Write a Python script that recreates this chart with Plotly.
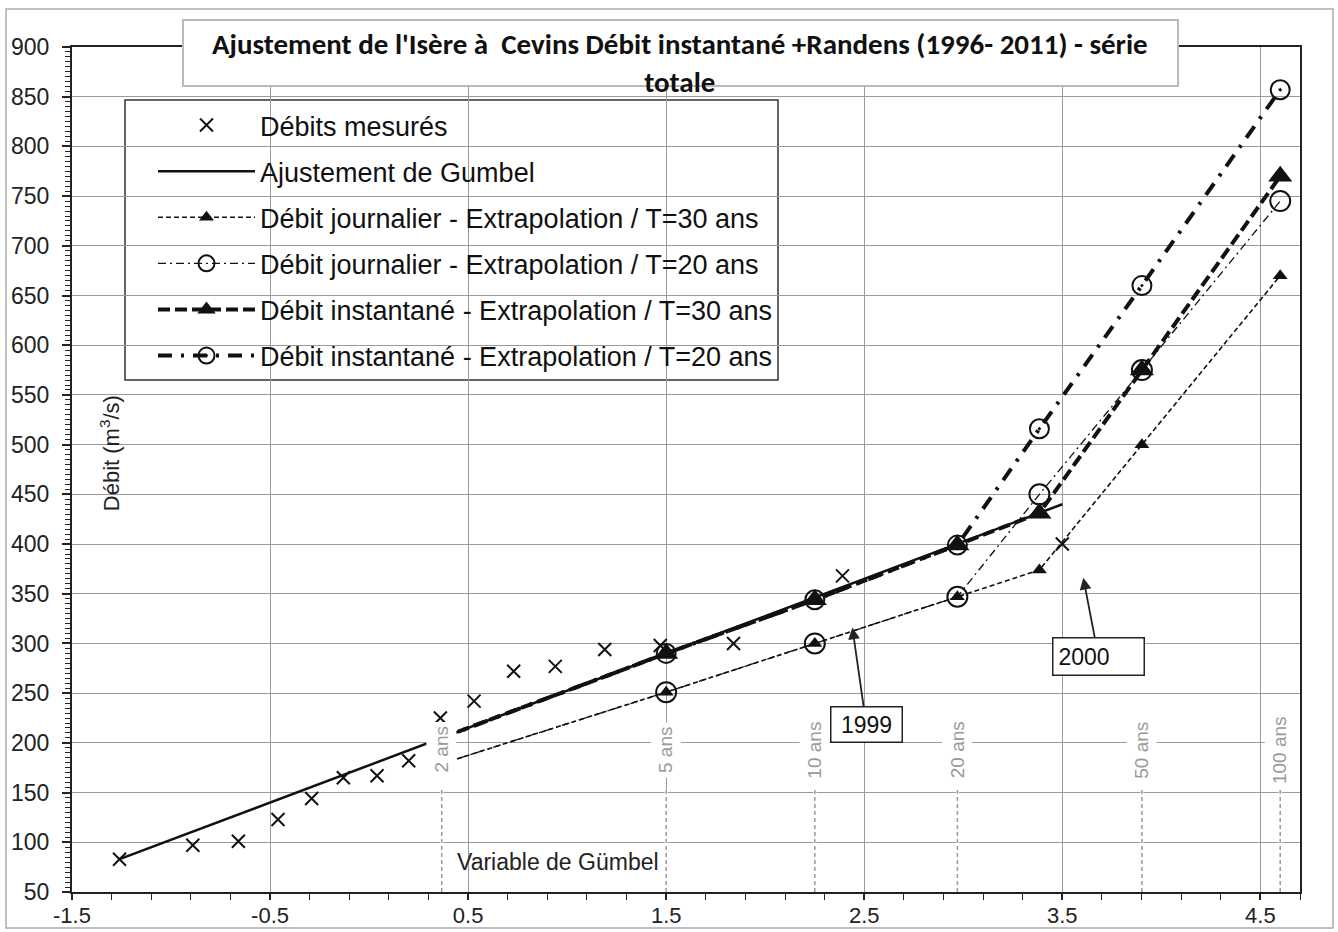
import plotly.graph_objects as go

# ---------------- data ----------------
measured_u = [-1.26, -0.89, -0.66, -0.46, -0.29, -0.13, 0.04, 0.20, 0.36, 0.53,
              0.73, 0.94, 1.19, 1.47, 1.84, 2.39, 3.50]
measured_q = [83, 97, 101, 123, 144, 165, 167, 182, 225, 242,
              272, 277, 294, 298, 300, 368, 400]

fit_u = [-1.26, 3.50]
fit_q = [83, 440]

extrap_u = [0.3665, 1.4999, 2.2504, 2.9702, 3.3843, 3.9019, 4.6001]
jour_t30 = [179, 251, 300, 347, 374, 500, 670]
jour_t20 = [179, 251, 300, 347, 450, 575, 745]
inst_t30 = [205, 290, 344, 399, 431, 575, 770]
inst_t20 = [205, 290, 344, 399, 516, 660, 857]

return_u = [0.3665, 1.4999, 2.2504, 2.9702, 3.9019, 4.6001]
return_labels = ["2 ans", "5 ans", "10 ans", "20 ans", "50 ans", "100 ans"]

y_ticks = list(range(50, 901, 50))
x_ticks = [-1.5, -0.5, 0.5, 1.5, 2.5, 3.5, 4.5]

title_text = ("Ajustement de l'Isère à  Cevins Débit instantané +Randens (1996- 2011) - série"
              "<br>totale")

# ---------------- figure ----------------
W, H = 1338, 932
ML, MR, MT, MB = 72, 38, 47, 40
PW, PH = W - ML - MR, H - MT - MB
X0, X1, Y0, Y1 = -1.5, 4.7, 50, 900


def px2paper_x(px):
    return (px - ML) / PW


def px2paper_y(py):
    return 1 - (py - MT) / PH


def px2x(px):
    return X0 + (px - ML) / PW * (X1 - X0)


def px2y(py):
    return Y1 - (py - MT) / PH * (Y1 - Y0)


FONT = "Liberation Sans, Arial, sans-serif"
TITLE_FONT = "Carlito, Lato, sans-serif"
fig = go.Figure()

fig.add_trace(go.Scatter(
    x=measured_u, y=measured_q, mode="markers", name="Débits mesurés",
    legendgroup="a",
    marker=dict(symbol="x-thin", size=13, line=dict(width=2, color="#111"), color="#111")))

fig.add_trace(go.Scatter(
    x=fit_u, y=fit_q, mode="lines", name="Ajustement de Gumbel", legendgroup="b",
    line=dict(color="#111", width=2.5)))

fig.add_trace(go.Scatter(
    x=extrap_u, y=jour_t30, mode="lines+markers",
    name="Débit journalier - Extrapolation / T=30 ans", legendgroup="c",
    line=dict(color="#111", width=1.6, dash="5px,3px"),
    marker=dict(symbol="triangle-up", size=13, color="#111")))

fig.add_trace(go.Scatter(
    x=extrap_u, y=jour_t20, mode="lines+markers",
    name="Débit journalier - Extrapolation / T=20 ans", legendgroup="d",
    line=dict(color="#111", width=1.3, dash="8px,4px,2px,4px"),
    marker=dict(symbol="circle-open", size=20, line=dict(width=2, color="#111"), color="#111")))

fig.add_trace(go.Scatter(
    x=extrap_u, y=inst_t30, mode="lines+markers",
    name="Débit instantané - Extrapolation / T=30 ans", legendgroup="e",
    line=dict(color="#111", width=4, dash="12px,5px"),
    marker=dict(symbol="triangle-up", size=21, color="#111")))

fig.add_trace(go.Scatter(
    x=extrap_u, y=inst_t20, mode="lines+markers",
    name="Débit instantané - Extrapolation / T=20 ans", legendgroup="f",
    line=dict(color="#111", width=4, dash="14px,9px,3px,9px"),
    marker=dict(symbol="circle-open-dot", size=19, line=dict(width=2, color="#111"), color="#111")))

shapes = []
# legend box
shapes.append(dict(type="rect", xref="paper", yref="paper",
                   x0=px2paper_x(125), x1=px2paper_x(778),
                   y0=px2paper_y(380), y1=px2paper_y(100),
                   fillcolor="white", line=dict(color="#333", width=1.5), layer="between"))
# return period dashed lines
for u in return_u:
    shapes.append(dict(type="line", xref="x", yref="y", x0=u, x1=u, y0=Y0, y1=153,
                       line=dict(color="white", width=3), layer="between"))
    shapes.append(dict(type="line", xref="x", yref="y", x0=u, x1=u, y0=Y0, y1=153,
                       line=dict(color="#999", width=1.5, dash="4px,3px"), layer="between"))
# white patch behind the "100 ans" label (breaks the frame like the reference)
shapes.append(dict(type="rect", xref="x", yref="y", x0=px2x(1271), x1=px2x(1304),
                   y0=px2y(790), y1=px2y(705), fillcolor="white",
                   line=dict(width=0), layer="above"))
# title box
shapes.append(dict(type="rect", xref="paper", yref="paper",
                   x0=px2paper_x(183), x1=px2paper_x(1178),
                   y0=px2paper_y(86), y1=px2paper_y(20),
                   fillcolor="white", line=dict(color="#bbb", width=2), layer="above"))
# outer chart border
shapes.append(dict(type="rect", xref="paper", yref="paper",
                   x0=px2paper_x(6), x1=px2paper_x(1333),
                   y0=px2paper_y(928), y1=px2paper_y(9),
                   line=dict(color="#aaa", width=1.5), layer="above"))

annotations = []
annotations.append(dict(
    xref="paper", yref="paper", x=px2paper_x(680), y=px2paper_y(63),
    xanchor="center", yanchor="middle", text="<b>" + title_text + "</b>",
    showarrow=False, align="center",
    font=dict(family=TITLE_FONT, size=29, color="#111")))
annotations.append(dict(
    xref="x", yref="y", x=-1.31, y=491, text="Débit (m<sup>3</sup>/s)", textangle=-90,
    showarrow=False, font=dict(family=FONT, size=22, color="#222")))
annotations.append(dict(
    xref="x", yref="y", x=px2x(455), y=px2y(862), xanchor="left", text="Variable de Gümbel",
    showarrow=False, font=dict(family=FONT, size=23, color="#222")))
for u, lab in zip(return_u, return_labels):
    annotations.append(dict(
        xref="x", yref="y", x=u, y=193, text=lab, textangle=-90, showarrow=False,
        bgcolor="white", borderpad=4, font=dict(family=FONT, size=19, color="#999")))
annotations.append(dict(
    xref="x", yref="y", x=2.44, y=316, axref="x", ayref="y", ax=2.51, ay=218,
    text="1999", showarrow=True, arrowhead=2, arrowsize=1.3, arrowwidth=1.8,
    arrowcolor="#222", bgcolor="white", bordercolor="#222", borderwidth=1.5, borderpad=4,
    width=62,
    font=dict(family=FONT, size=23, color="#111")))
annotations.append(dict(
    xref="x", yref="y", x=3.606, y=366, axref="x", ayref="y", ax=3.682, ay=287,
    text="2000", showarrow=True, arrowhead=2, arrowsize=1.3, arrowwidth=1.8,
    arrowcolor="#222", bgcolor="white", bordercolor="#222", borderwidth=1.5, borderpad=5,
    width=80, align="left",
    font=dict(family=FONT, size=23, color="#111")))

fig.update_layout(
    width=W, height=H,
    margin=dict(l=ML, r=MR, t=MT, b=MB, autoexpand=False),
    paper_bgcolor="white", plot_bgcolor="white",
    font=dict(family=FONT, size=23, color="#222"),
    showlegend=True,
    legend=dict(x=px2paper_x(153), y=px2paper_y(101), xanchor="left", yanchor="top",
                bgcolor="rgba(0,0,0,0)", borderwidth=0, itemwidth=97,
                tracegroupgap=8, traceorder="grouped",
                font=dict(family=FONT, size=27, color="#111")),
    shapes=shapes, annotations=annotations,
)
fig.update_xaxes(range=[X0, X1], tickvals=x_ticks, ticktext=[str(v) for v in x_ticks],
                 showgrid=True, gridcolor="#9a9a9a", gridwidth=1.3, zeroline=False,
                 showline=True, linecolor="#222", linewidth=2, mirror=True,
                 ticks="outside", ticklen=6, tickwidth=1.5, tickcolor="#222",
                 ticklabelstandoff=-3,
                 minor=dict(ticks="outside", ticklen=6, tickwidth=1.2, tickcolor="#222",
                            tick0=-1.5, dtick=0.2, showgrid=False),
                 tickfont=dict(size=22, color="#222"))
fig.update_yaxes(range=[Y0, Y1], tickvals=y_ticks, showgrid=True, gridcolor="#9a9a9a",
                 gridwidth=1.3, zeroline=False,
                 showline=True, linecolor="#222", linewidth=2, mirror=True,
                 ticks="outside", ticklen=8, tickwidth=1.5, tickcolor="#222",
                 ticklabelstandoff=8,
                 minor=dict(ticks="outside", ticklen=5, tickwidth=1, tickcolor="#222",
                            tick0=50, dtick=5, showgrid=False),
                 tickfont=dict(size=23, color="#222"))

fig.write_html("out.html", config={"displayModeBar": False},
               post_script="document.body.style.margin='0';document.body.style.overflow='hidden';")
